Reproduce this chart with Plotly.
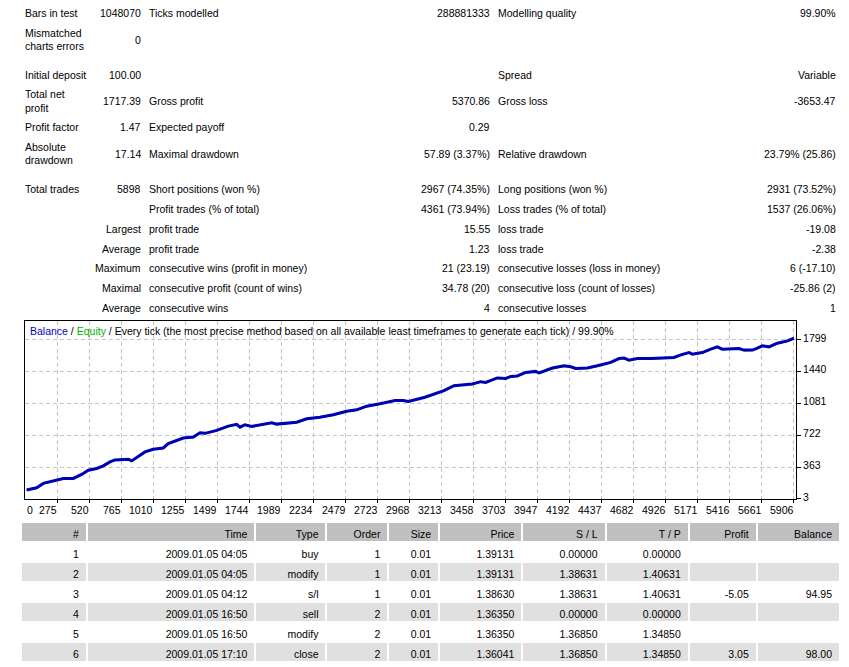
import plotly.graph_objects as go

W, H = 849, 667
FONT = "Liberation Sans"
FS = 10.5
TXT = "#000000"

# ---------------- report summary (text data) ----------------
col1_labels = ["Bars in test", "Mismatched", "charts errors", "Initial deposit", "Total net", "profit",
               "Profit factor", "Absolute", "drawdown", "Total trades"]
col1_values = ["1048070", "0", "100.00", "1717.39", "1.47", "17.14", "5898"]
col1_words = ["Largest", "Average", "Maximum", "Maximal", "Average"]
col2_labels = ["Ticks modelled", "Gross profit", "Expected payoff", "Maximal drawdown",
               "Short positions (won %)", "Profit trades (% of total)", "profit trade", "profit trade",
               "consecutive wins (profit in money)", "consecutive profit (count of wins)", "consecutive wins"]
col2_values = ["288881333", "5370.86", "0.29", "57.89 (3.37%)", "2967 (74.35%)", "4361 (73.94%)",
               "15.55", "1.23", "21 (23.19)", "34.78 (20)", "4"]
col3_labels = ["Modelling quality", "Spread", "Gross loss", "Relative drawdown", "Long positions (won %)",
               "Loss trades (% of total)", "loss trade", "loss trade", "consecutive losses (loss in money)",
               "consecutive loss (count of losses)", "consecutive losses"]
col3_values = ["99.90%", "Variable", "-3653.47", "23.79% (25.86)", "2931 (73.52%)", "1537 (26.06%)",
               "-19.08", "-2.38", "6 (-17.10)", "-25.86 (2)", "1"]

# ---------------- balance / equity curve ----------------
trade_no = [30, 110, 163, 243, 323, 403, 470, 523, 590, 643, 696, 736, 843, 870, 923, 976, 1042, 1122,
            1162, 1216, 1282, 1362, 1416, 1456, 1549, 1642, 1709, 1736, 1775, 1829, 1949, 1989, 2029,
            2135, 2189, 2269, 2375, 2481, 2588, 2668, 2748, 2855, 2975, 3041, 3081, 3214, 3286, 3366,
            3446, 3553, 3593, 3660, 3700, 3792, 3860, 3900, 3952, 4019, 4099, 4126, 4179, 4232, 4326,
            4379, 4419, 4512, 4592, 4699, 4765, 4805, 4845, 4912, 5019, 5125, 5205, 5259, 5325, 5351,
            5431, 5498, 5551, 5591, 5725, 5765, 5831, 5871, 5911, 5964, 6031, 6111, 6164]
balance = [104, 130, 179, 208, 235, 235, 280, 328, 347, 377, 421, 444, 452, 433, 485, 534, 564, 579,
           628, 657, 691, 702, 751, 744, 777, 825, 845, 814, 841, 822, 852, 864, 848, 867, 870, 908,
           926, 953, 994, 1009, 1050, 1077, 1114, 1114, 1103, 1151, 1189, 1226, 1282, 1301, 1301, 1327,
           1319, 1369, 1364, 1386, 1391, 1431, 1443, 1425, 1454, 1481, 1506, 1495, 1476, 1481, 1506,
           1544, 1588, 1593, 1570, 1588, 1588, 1596, 1600, 1630, 1656, 1638, 1656, 1694, 1720, 1694,
           1701, 1683, 1683, 1705, 1731, 1720, 1761, 1787, 1817]
equity = [103, 129, 178, 207, 234, 234, 279, 327, 346, 376, 420, 443, 451, 432, 484, 533, 563, 578,
          627, 656, 690, 698, 750, 743, 776, 824, 844, 813, 840, 821, 851, 863, 847, 866, 869, 906,
          925, 952, 993, 1008, 1049, 1076, 1113, 1113, 1102, 1150, 1188, 1225, 1281, 1300, 1300, 1326,
          1318, 1368, 1363, 1385, 1390, 1430, 1442, 1424, 1453, 1476, 1505, 1494, 1475, 1480, 1505,
          1543, 1587, 1592, 1569, 1587, 1587, 1595, 1599, 1629, 1655, 1637, 1655, 1692, 1716, 1693,
          1700, 1678, 1682, 1704, 1730, 1718, 1760, 1784, 1816]

x_ticks = [275, 520, 765, 1010, 1255, 1499, 1744, 1989, 2234, 2479, 2723, 2968, 3213, 3458, 3703,
           3947, 4192, 4437, 4682, 4926, 5171, 5416, 5661, 5906]
# MT4 labels are right-aligned to each grid line; grid positions in axis units
x_tick_pos = [275, 531, 787, 1043, 1299, 1555, 1811, 2067, 2323, 2579, 2835, 3091, 3347, 3603, 3859,
              4115, 4371, 4627, 4883, 5139, 5395, 5651, 5907, 6163]
y_ticks = [3, 363, 722, 1081, 1440, 1799]

# ---------------- trades table ----------------
tbl_header = ["#", "Time", "Type", "Order", "Size", "Price", "S / L", "T / P", "Profit", "Balance"]
tbl_no = ["1", "2", "3", "4", "5", "6"]
tbl_time = ["2009.01.05 04:05", "2009.01.05 04:05", "2009.01.05 04:12", "2009.01.05 16:50",
            "2009.01.05 16:50", "2009.01.05 17:10"]
tbl_type = ["buy", "modify", "s/l", "sell", "modify", "close"]
tbl_order = ["1", "1", "1", "2", "2", "2"]
tbl_size = ["0.01", "0.01", "0.01", "0.01", "0.01", "0.01"]
tbl_price = ["1.39131", "1.39131", "1.38630", "1.36350", "1.36350", "1.36041"]
tbl_sl = ["0.00000", "1.38631", "1.38631", "0.00000", "1.36850", "1.36850"]
tbl_tp = ["0.00000", "1.40631", "1.40631", "0.00000", "1.34850", "1.34850"]
tbl_profit = ["", "", "-5.05", "", "", "3.05"]
tbl_balance = ["", "", "94.95", "", "", "98.00"]

DY = 1.0  # small vertical text offset correction (px)


def px(x):
    return x / W


def py(y):
    return 1 - y / H


fig = go.Figure()

CL, CR, CT, CB = 25, 796, 323, 502
X_RANGE = [17, 6180]
Y_RANGE = [3, 2011]

fig.add_trace(go.Scatter(x=trade_no, y=equity, mode="lines", line=dict(color="#00b400", width=2),
                         hoverinfo="skip", showlegend=False))
fig.add_trace(go.Scatter(x=trade_no, y=balance, mode="lines", line=dict(color="#0000b4", width=3),
                         showlegend=False))

anns = []


def add_text(x, y, text, anchor="left", color=TXT, xref="paper", yref="paper"):
    anns.append(dict(x=x, y=y, xref=xref, yref=yref, text=text, showarrow=False,
                     xanchor=anchor, yanchor="middle", borderpad=0,
                     font=dict(family=FONT, size=FS, color=color)))


c1_y = [12.3, 32.3, 45.0, 74.0, 94.0, 107.3, 127.0, 147.0, 160.3, 189.0]
for t, y in zip(col1_labels, c1_y):
    add_text(px(24), py(y + DY), t)
c1v_y = [12.3, 39.3, 74.0, 100.7, 127.0, 154.0, 189.0]
for t, y in zip(col1_values, c1v_y):
    add_text(px(141.5), py(y + DY), t, "right")
cw_y = [229, 249, 269, 289, 309]
for t, y in zip(col1_words, cw_y):
    add_text(px(141.5), py(y + DY), t, "right")

c2_y = [12.3, 100.7, 127.0, 154.0, 189, 209, 229, 249, 269, 289, 309]
for t, y in zip(col2_labels, c2_y):
    add_text(px(147.5), py(y + DY), t)
for t, y in zip(col2_values, c2_y):
    add_text(px(490.5), py(y + DY), t, "right")

c3_y = [12.3, 74.0, 100.7, 154.0, 189, 209, 229, 249, 269, 289, 309]
for t, y in zip(col3_labels, c3_y):
    add_text(px(496.8), py(y + DY), t)
for t, y in zip(col3_values, c3_y):
    add_text(px(837), py(y + DY), t, "right")

add_text(px(29), py(331.7 + 1.5),
         "<span style='color:#0000c8'>Balance</span> / <span style='color:#00b400'>Equity</span> / "
         "Every tick (the most precise method based on all available least timeframes to generate each tick) / 99.90%")

for v, t in zip(x_tick_pos, x_ticks):
    add_text(v + 8, py(513), str(t), "right", xref="x")
add_text(25, py(513), "0", "left", xref="x")

fig.add_trace(go.Table(
    domain=dict(x=[px(21), px(840)], y=[py(667), py(525.5)]),
    columnwidth=[65, 166, 70, 61, 50, 82, 82, 82, 67, 82],
    header=dict(values=tbl_header, fill_color="#c0c0c0", align="right", height=20,
                line=dict(color="white", width=2),
                font=dict(family=FONT, size=FS, color=TXT)),
    cells=dict(values=[tbl_no, tbl_time, tbl_type, tbl_order, tbl_size, tbl_price, tbl_sl, tbl_tp,
                       tbl_profit, tbl_balance],
               fill_color=[["white", "#e0e0e0"] * 3] * 10, align="right", height=20,
               line=dict(color="white", width=2),
               font=dict(family=FONT, size=FS, color=TXT)),
))

GRID = dict(showgrid=True, gridcolor="#c4c4c4", griddash="4px,3px", gridwidth=1, showline=True,
            mirror=True, linecolor="black", linewidth=1, zeroline=False, fixedrange=True,
            tickcolor="black", ticks="outside")

fig.update_layout(
    width=W, height=H, margin=dict(l=0, r=0, t=0, b=0),
    paper_bgcolor="white", plot_bgcolor="white",
    font=dict(family=FONT, size=FS, color=TXT),
    annotations=anns,
    xaxis=dict(domain=[px(CL), px(CR)], range=X_RANGE, tickvals=x_tick_pos, showticklabels=False,
               ticklen=3, **GRID),
    yaxis=dict(domain=[py(CB), py(CT)], range=Y_RANGE, tickvals=y_ticks, side="right",
               ticklen=4, ticklabelshift=-2, tickfont=dict(family=FONT, size=FS, color=TXT), **GRID),
)

fig.write_html("out.html")
